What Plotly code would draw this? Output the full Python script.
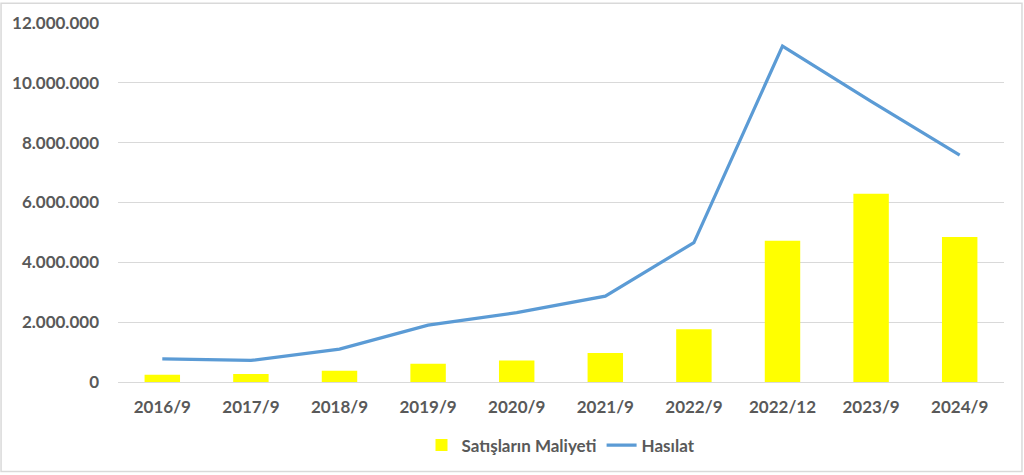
import plotly.graph_objs as go

# Periods shown on the x axis
periods = ['2016/9', '2017/9', '2018/9', '2019/9', '2020/9',
           '2021/9', '2022/9', '2022/12', '2023/9', '2024/9']

# Cost of sales (bars) and revenue (line)
satislarin_maliyeti = [240000, 270000, 380000, 610000, 720000,
                       970000, 1760000, 4720000, 6290000, 4850000]
hasilat = [770000, 720000, 1100000, 1900000, 2320000,
           2870000, 4660000, 11230000, 9380000, 7580000]

# Y axis ticks
y_ticks = [0, 2000000, 4000000, 6000000, 8000000, 10000000, 12000000]

fig = go.Figure()

# Yellow bars for cost of sales
fig.add_trace(go.Bar(x=periods, y=satislarin_maliyeti, name='Satışların Maliyeti',
                     marker=dict(color='#FFFF00', line=dict(width=0)), width=0.4))

# Blue line for revenue
fig.add_trace(go.Scatter(x=periods, y=hasilat, mode='lines', name='Hasılat',
                         line=dict(color='#5B9BD5', width=3.2)))

# Customize layout
fig.update_layout(
    width=1024, height=475,
    margin=dict(l=118, r=20, t=21, b=92),
    paper_bgcolor='white', plot_bgcolor='white',
    separators=',.',
    font=dict(family='Lato, Calibri, sans-serif', size=17, color='#595959'),
    showlegend=True,
    legend=dict(orientation='h', x=0.5, xanchor='center', y=-0.177, yanchor='middle',
                font=dict(size=17, color='#595959', weight='bold'), traceorder='normal'),
    xaxis=dict(showgrid=False, showline=True, linecolor='#d9d9d9', linewidth=1,
               ticks='', tickfont=dict(size=17, weight='bold'), ticklabelstandoff=10),
    yaxis=dict(range=[0, 12000000], tickvals=y_ticks, tickformat=',d',
               showgrid=True, gridcolor='#d9d9d9', gridwidth=1,
               zeroline=False, showline=False, ticks='',
               tickfont=dict(size=17, weight='bold'), ticklabelstandoff=18),
    shapes=[dict(type='rect', xref='paper', yref='paper',
                 x0=-0.132, x1=1.0203, y0=-0.249, y1=1.055,
                 line=dict(color='#d9d9d9', width=1.5))],
    hovermode=False,
)

# Drop the default page margin so the chart sits at the window corner
fig.write_html('out.html', config={'displayModeBar': False},
               post_script="document.body.style.margin='0';")
